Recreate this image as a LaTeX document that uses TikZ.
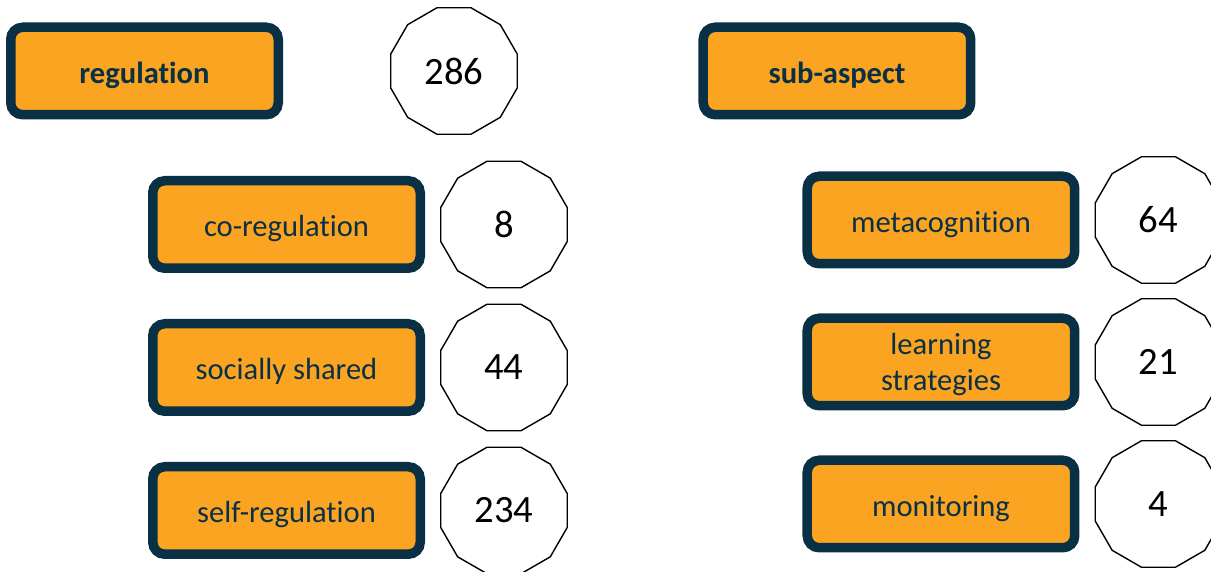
\documentclass[tikz,border=0pt]{standalone}
\usepackage{fontspec}
\setmainfont{Carlito}[Ligatures={NoCommon,NoContextual}]
\usetikzlibrary{positioning, shapes.geometric}
\definecolor{boxorange}{RGB}{250,164,34}
\definecolor{boxnavy}{RGB}{9,48,68}
\tikzset{
	catbox/.append style={
		draw=boxnavy,
		fill=boxorange,
		text=boxnavy,
		line width=0.095cm,
		rounded corners=0.12cm,
		align = center,
		text height=0.9em,
		text depth=0.2em,
		minimum width=2.675cm,
		minimum height=0.875cm,
		font={\fontsize{8.7}{10.5}\selectfont}
	},
	headbox/.append style={
		catbox,
		font={\fontsize{8.7}{10.5}\selectfont\bfseries}
	},
	countgon/.append style={
		draw,
		regular polygon,
		regular polygon sides=12,
		minimum size=1.31cm,
		inner sep=0pt,
		font={\fontsize{11}{13}\selectfont}
	}
}

\begin{document}
\begin{tikzpicture}
	\useasboundingbox (0,0) rectangle (12.11,-5.72);
	
	% regulation column
	\node (regulation)[headbox] at (1.445,-0.71) {regulation};
	\node (regulationN)[countgon, right=1.07cm of regulation]{286};
	
	\node (coReg)[catbox, below=0.565 of regulation, xshift=1.42cm]{co-regulation};
	\node (shared)[catbox, below=0.46 of coReg]{socially shared};
	\node (selfReg)[catbox, below=0.46 of shared]{self-regulation};
	\node (coRegN)[countgon, right=0.15 of coReg]{8};
	\node (sharedN)[countgon, right=0.15 of shared]{44};
	\node (selfRegN)[countgon, right=0.15 of selfReg]{234};
	
	% sub-aspect column
	\node (subAspect)[headbox] at (8.37,-0.71) {sub-aspect};
	
	\node (metacog)[catbox, below=0.52 of subAspect, xshift=1.04cm]{metacognition};
	\node (strategies)[catbox, text height=1.85em, inner ysep=0pt, below=0.45 of metacog]{learning\\strategies};
	\node (monitor)[catbox, below=0.45 of strategies]{monitoring};
	\node (metacogN)[countgon, right=0.15 of metacog]{64};
	\node (strategiesN)[countgon, right=0.15 of strategies]{21};
	\node (monitorN)[countgon, right=0.15 of monitor]{4};
	
\end{tikzpicture}
\end{document}
